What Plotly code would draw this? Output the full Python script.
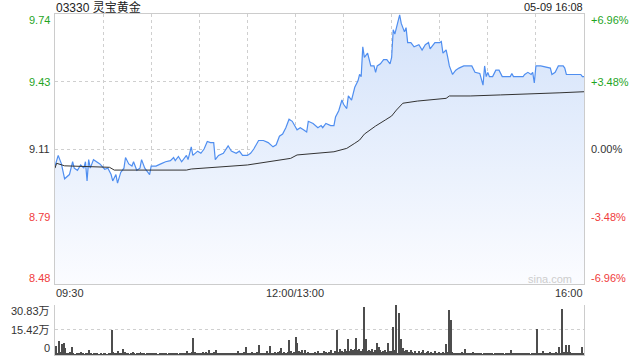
import plotly.graph_objects as go

# ---------------- data ----------------
prev_close = 9.11
limit_pct = 0.0696

# intraday price line (minute index from 09:30, continuous session minutes)
price_min = [0, 2, 4, 6, 9, 11, 12, 14, 16, 18, 19, 20, 21, 22, 24, 26, 28, 31, 33, 35,
             36, 38, 39, 41, 43, 44, 46, 48, 49, 51, 53, 54, 56, 58, 59, 60, 63, 66, 69, 72,
             74, 75, 77, 79, 82, 83, 85, 86, 89, 91, 93, 95, 97, 99, 100, 102, 105, 108, 110, 113,
             115, 117, 120, 122, 124, 127, 130, 133, 136, 138, 140, 142, 144, 146, 148, 151, 153, 155, 157, 158,
             161, 164, 166, 167, 169, 172, 174, 175, 177, 179, 180, 182, 183, 185, 187, 189, 190, 191, 192, 193,
             195, 197, 199, 200, 201, 203, 205, 207, 209, 210, 211, 212, 213, 215, 216, 218, 219, 220, 222, 224,
             227, 229, 231, 233, 234, 237, 240, 241, 242, 244, 245, 246, 248, 250, 252, 255, 260, 262, 265, 267,
             268, 269, 270, 271, 273, 275, 277, 279, 282, 284, 285, 286, 289, 292, 293, 295, 297, 298, 299, 300,
             303, 306, 309, 310, 312, 314, 317, 318, 319, 322, 326, 328, 329, 330]
price = [9.03, 9.08, 9.04, 8.97, 8.99, 9.05, 9.02, 9.01, 9.035, 9.02, 9.05, 8.96, 9.06, 9.02, 9.06, 9.05, 9.04, 9.015, 9.02, 8.99,
         8.96, 8.99, 8.95, 9.00, 9.02, 9.07, 9.04, 9.03, 9.05, 9.01, 9.02, 9.06, 9.02, 9.00, 8.99, 9.03, 9.03, 9.04, 9.05, 9.055,
         9.07, 9.055, 9.075, 9.05, 9.08, 9.06, 9.12, 9.08, 9.10, 9.09, 9.11, 9.145, 9.14, 9.14, 9.06, 9.08, 9.09, 9.125, 9.10, 9.09,
         9.10, 9.08, 9.08, 9.09, 9.11, 9.15, 9.15, 9.14, 9.12, 9.13, 9.17, 9.18, 9.21, 9.25, 9.24, 9.20, 9.21, 9.20, 9.19, 9.24,
         9.23, 9.21, 9.22, 9.21, 9.23, 9.22, 9.22, 9.26, 9.29, 9.34, 9.32, 9.30, 9.36, 9.34, 9.40, 9.43, 9.46, 9.45, 9.59, 9.54,
         9.56, 9.50, 9.50, 9.47, 9.50, 9.51, 9.53, 9.53, 9.51, 9.54, 9.67, 9.65, 9.68, 9.74, 9.70, 9.66, 9.68, 9.61, 9.61, 9.59,
         9.60, 9.575, 9.60, 9.61, 9.58, 9.61, 9.61, 9.615, 9.56, 9.575, 9.54, 9.50, 9.46, 9.48, 9.49, 9.50, 9.50, 9.47, 9.465, 9.41,
         9.50, 9.45, 9.47, 9.45, 9.45, 9.48, 9.48, 9.45, 9.45, 9.45, 9.465, 9.45, 9.45, 9.45, 9.46, 9.47, 9.46, 9.47, 9.42, 9.50,
         9.50, 9.495, 9.49, 9.46, 9.47, 9.50, 9.50, 9.49, 9.46, 9.46, 9.46, 9.46, 9.45, 9.45]

# average price line
avg_min = [0, 1, 6, 34, 37, 82, 85, 99, 120, 147, 151, 174, 182, 187, 190, 193, 200, 206, 210, 213,
           217, 226, 240, 244, 246, 259, 278, 300, 315, 330]
avg_price = [9.02, 9.043, 9.031, 9.024, 9.011, 9.011, 9.016, 9.024, 9.035, 9.066, 9.082, 9.097, 9.113, 9.137, 9.152,
             9.18, 9.218, 9.246, 9.265, 9.293, 9.325, 9.335, 9.343, 9.348, 9.359, 9.359, 9.364, 9.368, 9.374, 9.379]

# volume per minute (unit: 万 shares)
vol = [5.7, 1.2, 8.8, 2.0, 7.0, 7.5, 4.4, 1.5, 0.8, 1.8,
       5.0, 1.0, 0.6, 1.3, 0.7, 0.9, 1.6, 0.8, 0.5, 1.1,
       0.9, 3.0, 1.2, 0.6, 0.8, 1.4, 0.7, 0.5, 1.0, 0.6,
       0.8, 1.2, 0.6, 0.9, 1.5, 15.5, 1.8, 1.0, 0.7, 2.2,
       1.1, 0.8, 3.8, 1.6, 0.9, 1.2, 0.6, 1.0, 1.7, 0.8,
       0.6, 1.3, 0.9, 1.6, 0.7, 1.0, 0.5, 0.8, 1.4, 0.9,
       1.2, 0.7, 0.9, 1.5, 0.6, 0.8, 1.1, 0.7, 0.9, 1.3,
       0.6, 1.0, 0.8, 1.4, 0.7, 0.9, 1.2, 0.6, 1.0, 0.8,
       1.5, 0.9, 2.4, 1.1, 0.8, 1.6, 10.5, 2.0, 1.2, 0.9,
       1.3, 0.8, 1.6, 1.0, 2.0, 1.2, 3.0, 1.5, 0.9, 1.7,
       3.2, 1.1, 0.8, 1.4, 1.0, 0.7, 1.2, 0.9, 1.5, 0.8,
       1.0, 0.7, 1.3, 0.9, 2.2, 1.1, 0.8, 1.0, 1.6, 5.0,
       1.2, 0.9, 1.5, 2.0, 1.0, 0.8, 1.8, 6.3, 1.4, 1.0,
       1.2, 0.9, 2.5, 1.5, 5.7, 1.3, 0.9, 1.8, 1.1, 1.6,
       2.2, 4.5, 1.4, 2.0, 1.1, 1.8, 9.4, 2.5, 1.2, 1.6,
       10.9, 7.5, 2.4, 1.6, 3.0, 1.2, 3.2, 1.4, 2.0, 1.0,
       1.5, 0.9, 1.8, 1.2, 2.6, 1.0, 1.4, 0.8, 2.2, 1.6,
       1.1, 1.8, 2.8, 1.4, 1.2, 2.4, 15.7, 1.8, 4.0, 2.2,
       2.0, 3.5, 2.2, 9.9, 2.6, 4.0, 3.0, 3.5, 10.5, 2.8,
       3.7, 2.4, 3.5, 29.8, 9.9, 2.6, 3.0, 2.2, 3.5, 2.0,
       2.8, 7.1, 5.0, 3.0, 1.8, 2.4, 3.0, 1.6, 7.1, 2.2,
       2.6, 17.2, 3.0, 30.8, 1.5, 26.0, 10.0, 4.6, 2.4, 3.0,
       2.8, 1.8, 3.2, 2.0, 1.5, 2.6, 1.4, 2.2, 1.2, 1.8,
       2.8, 1.3, 1.6, 2.4, 1.2, 2.0, 1.5, 2.6, 1.0, 1.4,
       1.8, 1.2, 2.0, 1.4, 6.7, 1.6, 27.7, 21.4, 2.0, 1.2,
       1.0, 1.5, 0.8, 1.2, 1.6, 0.9, 3.6, 1.1, 0.7, 1.3,
       0.8, 1.6, 1.0, 0.7, 1.2, 0.9, 1.4, 0.6, 1.0, 0.8,
       1.2, 0.7, 0.9, 1.5, 0.6, 1.0, 0.8, 1.3, 0.7, 0.9,
       1.1, 0.6, 0.9, 1.4, 0.8, 3.1, 1.0, 0.7, 1.2, 0.9,
       0.8, 1.3, 0.7, 1.0, 1.5, 0.8, 1.1, 0.6, 1.4, 0.9,
       1.2, 16.2, 1.0, 0.8, 1.3, 2.5, 0.9, 1.1, 0.7, 1.6,
       1.0, 0.8, 1.4, 1.9, 1.1, 5.0, 1.5, 28.3, 2.0, 6.3,
       1.6, 6.3, 2.0, 1.2, 0.9, 1.5, 1.0, 0.8, 1.2, 5.0,
       1.0]
vol_min = list(range(len(vol)))

price_labels = ['9.74', '9.43', '9.11', '8.79', '8.48']
pct_labels = ['+6.96%', '+3.48%', '0.00%', '-3.48%', '-6.96%']
label_colors = ['#1fa51f', '#1fa51f', '#333333', '#f03c3c', '#f03c3c']
vol_ticks = [30.83, 15.42, 0]
vol_labels = ['30.83万', '15.42万', '0']
time_ticks = [0, 150, 330]
time_labels = ['09:30', '12:00/13:00', '16:00']
title_text = '03330 灵宝黄金'
stamp_text = '05-09 16:08'

# ---------------- figure ----------------
y_lo = prev_close * (1 - limit_pct)
y_hi = prev_close * (1 + limit_pct)
levels = [prev_close * (1 + limit_pct * k / 2) for k in (2, 1, 0, -1, -2)]

FONT = 'Liberation Sans, Arial, Noto Sans CJK SC, sans-serif'

fig = go.Figure()
fig.add_trace(go.Scatter(
    x=price_min, y=price, mode='lines',
    line=dict(color='#4f8ef0', width=1.2),
    fill='tozeroy',
    fillgradient=dict(type='vertical', start=y_lo, stop=y_hi,
                      colorscale=[[0, '#fbfcff'], [1, '#d3e2fa']]),
    xaxis='x', yaxis='y', hoverinfo='skip'))
fig.add_trace(go.Scatter(
    x=avg_min, y=avg_price, mode='lines',
    line=dict(color='#333333', width=1),
    xaxis='x', yaxis='y', hoverinfo='skip'))
fig.add_trace(go.Bar(
    x=vol_min, y=vol, width=0.62,
    marker=dict(color='#4d4d4d', line=dict(width=0)),
    xaxis='x2', yaxis='y2', hoverinfo='skip'))

H_TOP, H_BOT = 14, 5
plot_h = 360 - H_TOP - H_BOT
main_bottom = (355 - 284) / plot_h
vol_top = (355 - 305) / plot_h

fig.update_layout(
    width=640, height=360,
    margin=dict(l=55, r=56, t=H_TOP, b=H_BOT),
    paper_bgcolor='white', plot_bgcolor='white',
    showlegend=False, bargap=0,
    font=dict(family=FONT, size=11, color='#333333'),
    xaxis=dict(domain=[0, 1], range=[0, 330], tickvals=list(range(0, 331, 30)),
               showticklabels=False, ticks='', showgrid=True, gridcolor='#cfcfcf',
               griddash='dot', gridwidth=1, showline=True, mirror=True,
               linecolor='#cccccc', linewidth=1, zeroline=False, anchor='y'),
    yaxis=dict(domain=[main_bottom, 1], range=[y_lo, y_hi], tickvals=levels[1:4],
               showticklabels=False, ticks='', showgrid=True, gridcolor='#cfcfcf',
               griddash='dot', gridwidth=1, showline=True, mirror=True,
               linecolor='#cccccc', linewidth=1, zeroline=False, anchor='x'),
    xaxis2=dict(domain=[0, 1], range=[-0.5, 330.5], showticklabels=False, ticks='',
                showgrid=False, showline=True, linecolor='#cccccc', linewidth=1,
                zeroline=False, anchor='y2'),
    yaxis2=dict(domain=[0, vol_top], range=[0, 30.83], tickvals=[15.42, 30.83],
                showticklabels=False, ticks='', showgrid=True, gridcolor='#cfcfcf',
                griddash='dot', gridwidth=1, showline=True, mirror=True,
                linecolor='#cccccc', linewidth=1, zeroline=False, anchor='x2'),
)

ann = []
shifts = [-6, 0, 0, 0, 6]
for lvl, txt, pct, col, sh in zip(levels, price_labels, pct_labels, label_colors, shifts):
    ann.append(dict(xref='paper', yref='y', x=0, y=lvl, text=txt, showarrow=False,
                    xanchor='right', yanchor='middle', xshift=-3, yshift=sh,
                    font=dict(size=11, color=col)))
    ann.append(dict(xref='paper', yref='y', x=1, y=lvl, text=pct, showarrow=False,
                    xanchor='left', yanchor='middle', xshift=5, yshift=sh,
                    font=dict(size=11, color=col)))
vshift = [-6, 0, 7]
for v, txt, sh in zip(vol_ticks, vol_labels, vshift):
    ann.append(dict(xref='paper', yref='y2', x=0, y=v, text=txt, showarrow=False,
                    xanchor='right', yanchor='middle', xshift=-3, yshift=sh,
                    font=dict(size=11, color='#333333')))
anchors = ['left', 'center', 'right']
for t, txt, a in zip(time_ticks, time_labels, anchors):
    ann.append(dict(xref='x', yref='paper', x=t, y=main_bottom, text=txt, showarrow=False,
                    xanchor=a, yanchor='middle', yshift=-9, xshift={'left': -1, 'center': 0, 'right': 1}[a],
                    font=dict(size=11, color='#333333')))
ann.append(dict(xref='paper', yref='paper', x=0, y=1, text=title_text, showarrow=False,
                xanchor='left', yanchor='middle', yshift=7, xshift=-1,
                font=dict(size=12, color='#222222')))
ann.append(dict(xref='paper', yref='paper', x=1, y=1, text=stamp_text, showarrow=False,
                xanchor='right', yanchor='middle', yshift=7, xshift=1,
                font=dict(size=11, color='#222222')))
ann.append(dict(xref='paper', yref='y', x=1, y=y_lo, text='sina.com', showarrow=False,
                xanchor='right', yanchor='middle', xshift=-10, yshift=5,
                font=dict(size=11, color='#cdcdcd')))
fig.update_layout(annotations=ann)

fig.write_html('out.html', config={'displayModeBar': False})
